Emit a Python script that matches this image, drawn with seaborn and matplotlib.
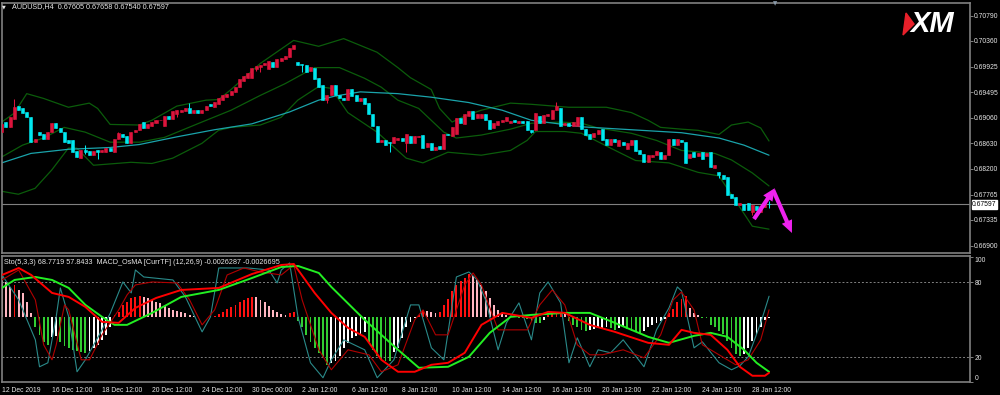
import matplotlib
matplotlib.use("Agg")
import matplotlib.pyplot as plt
from matplotlib.patches import Polygon, FancyArrowPatch
import numpy as np
import pandas as pd
import seaborn as sns

# AUDUSD H4 candles (bar 0 = 12 Dec 2019)
OPENS = [
    0.6882, 0.6899, 0.6891, 0.6905, 0.6926, 0.6923, 0.6916, 0.6907, 0.6865, 0.6883,
    0.6878, 0.6870, 0.6882, 0.6897, 0.6889, 0.6883, 0.6868, 0.6868, 0.6850, 0.6839,
    0.6851, 0.6850, 0.6844, 0.6851, 0.6848, 0.6848, 0.6855, 0.6849, 0.6870, 0.6879,
    0.6876, 0.6863, 0.6882, 0.6885, 0.6899, 0.6889, 0.6892, 0.6898, 0.6902, 0.6892,
    0.6910, 0.6905, 0.6913, 0.6916, 0.6917, 0.6923, 0.6915, 0.6919, 0.6915, 0.6919,
    0.6930, 0.6924, 0.6930, 0.6937, 0.6942, 0.6945, 0.6950, 0.6958, 0.6969, 0.6973,
    0.6973, 0.6989, 0.6992, 0.6995, 0.6989, 0.7000, 0.6992, 0.7003, 0.7005, 0.7009,
    0.7023, 0.7000, 0.6997, 0.6996, 0.6985, 0.6991, 0.6973, 0.6961, 0.6936, 0.6944,
    0.6962, 0.6944, 0.6940, 0.6936, 0.6955, 0.6944, 0.6935, 0.6939, 0.6932, 0.6912,
    0.6892, 0.6865, 0.6868, 0.6866, 0.6863, 0.6868, 0.6872, 0.6863, 0.6876, 0.6863,
    0.6874, 0.6877, 0.6857, 0.6864, 0.6851, 0.6858, 0.6854, 0.6879, 0.6876, 0.6878,
    0.6906, 0.6896, 0.6910, 0.6917, 0.6906, 0.6906, 0.6912, 0.6902, 0.6889, 0.6894,
    0.6899, 0.6900, 0.6898, 0.6903, 0.6897, 0.6901, 0.6901, 0.6886, 0.6886, 0.6909,
    0.6897, 0.6909, 0.6905, 0.6919, 0.6923, 0.6894, 0.6897, 0.6893, 0.6893, 0.6907,
    0.6888, 0.6879, 0.6873, 0.6878, 0.6888, 0.6871, 0.6860, 0.6871, 0.6858, 0.6865,
    0.6854, 0.6860, 0.6869, 0.6852, 0.6845, 0.6832, 0.6840, 0.6843, 0.6848, 0.6837,
    0.6843, 0.6871, 0.6860, 0.6869, 0.6866, 0.6839, 0.6848, 0.6841, 0.6848, 0.6841,
    0.6848, 0.6822, 0.6815, 0.6809, 0.6806, 0.6777, 0.6772, 0.6759, 0.6760, 0.6763,
    0.6747, 0.6757, 0.6747, 0.6756, 0.67605,
]
CLOSES = [
    0.6895, 0.6891, 0.6907, 0.6924, 0.6920, 0.6915, 0.6907, 0.6865, 0.6871, 0.6877,
    0.6870, 0.6882, 0.6897, 0.6889, 0.6882, 0.6866, 0.6864, 0.6849, 0.6840, 0.6851,
    0.6848, 0.6844, 0.6850, 0.6848, 0.6851, 0.6855, 0.6850, 0.6870, 0.6880, 0.6874,
    0.6863, 0.6882, 0.6886, 0.6896, 0.6889, 0.6895, 0.6899, 0.6902, 0.6903, 0.6909,
    0.6905, 0.6917, 0.6919, 0.6919, 0.6922, 0.6915, 0.6919, 0.6915, 0.6919, 0.6926,
    0.6926, 0.6933, 0.6940, 0.6944, 0.6947, 0.6951, 0.6958, 0.6972, 0.6977, 0.6982,
    0.6991, 0.6993, 0.6996, 0.6999, 0.7003, 0.6992, 0.7006, 0.7007, 0.7010, 0.7024,
    0.7030, 0.6996, 0.6995, 0.6983, 0.6992, 0.6972, 0.6958, 0.6937, 0.6945, 0.6962,
    0.6944, 0.6940, 0.6937, 0.6955, 0.6943, 0.6934, 0.6939, 0.6930, 0.6912, 0.6892,
    0.6865, 0.6868, 0.6861, 0.6863, 0.6874, 0.6872, 0.6867, 0.6878, 0.6863, 0.6876,
    0.6876, 0.6855, 0.6864, 0.6851, 0.6857, 0.6853, 0.6878, 0.6877, 0.6891, 0.6906,
    0.6898, 0.6912, 0.6917, 0.6905, 0.6912, 0.6913, 0.6902, 0.6888, 0.6898, 0.6900,
    0.6902, 0.6907, 0.6901, 0.6899, 0.6901, 0.6897, 0.6886, 0.6882, 0.6914, 0.6897,
    0.6911, 0.6912, 0.6920, 0.6926, 0.6892, 0.6898, 0.6892, 0.6899, 0.6907, 0.6888,
    0.6877, 0.6871, 0.6880, 0.6886, 0.6868, 0.6861, 0.6871, 0.6865, 0.6869, 0.6860,
    0.6863, 0.6869, 0.6850, 0.6845, 0.6832, 0.6843, 0.6843, 0.6850, 0.6837, 0.6843,
    0.6871, 0.6860, 0.6871, 0.6865, 0.6830, 0.6845, 0.6840, 0.6847, 0.6837, 0.6846,
    0.6823, 0.6826, 0.6809, 0.6802, 0.6775, 0.6770, 0.6759, 0.6762, 0.6751, 0.6751,
    0.6758, 0.6750, 0.6757, 0.6762, 0.67597,
]
HIGH_WICKS = {3: 0.6938, 20: 0.6860, 28: 0.6882, 45: 0.6931, 133: 0.6933, 184: 0.67658}
LOW_WICKS = {20: 0.6845, 23: 0.6837, 42: 0.6907, 61: 0.6985, 62: 0.6983, 72: 0.6983,
             78: 0.6931, 93: 0.6849, 97: 0.6849, 127: 0.6880, 172: 0.6804, 180: 0.6742,
             184: 0.67540}

# overlays (bar, price)
MA_SLOW = [(0, 0.6830), (7, 0.6846), (16, 0.6853), (26, 0.6856), (33, 0.6861), (42, 0.6874),
           (51, 0.6886), (60, 0.6896), (69, 0.6916), (76, 0.6936), (80, 0.6943), (86, 0.6950),
           (95, 0.6947), (103, 0.6941), (112, 0.6932), (120, 0.6919), (127, 0.6902),
           (139, 0.6891), (151, 0.6886), (163, 0.6881), (172, 0.6872), (178, 0.6860),
           (184, 0.6843)]
BB_UPPER = [(0, 0.6899), (3, 0.6914), (6, 0.6947), (10, 0.6939), (14, 0.6929), (16, 0.6924),
            (21, 0.6931), (23, 0.6922), (26, 0.6895), (33, 0.6894), (36, 0.6902), (42, 0.6926),
            (49, 0.6936), (52, 0.6937), (55, 0.6954), (62, 0.6998), (70, 0.7037), (76, 0.7027),
            (82, 0.7040), (90, 0.7017), (95, 0.6991), (98, 0.6974), (103, 0.6954), (105, 0.6922),
            (108, 0.6899), (111, 0.6909), (115, 0.6919), (122, 0.6931), (127, 0.6929),
            (136, 0.6924), (145, 0.6924), (151, 0.6915), (155, 0.6902), (158, 0.6890),
            (163, 0.6887), (167, 0.6885), (172, 0.6878), (175, 0.6894), (179, 0.6899),
            (182, 0.6889), (184, 0.6867)]
BB_MID = [(0, 0.6840), (5, 0.6860), (10, 0.6872), (15, 0.6890), (20, 0.6882), (26, 0.6865),
          (33, 0.6865), (39, 0.6873), (48, 0.6899), (55, 0.6919), (62, 0.6944), (68, 0.6964),
          (75, 0.6991), (81, 0.6991), (87, 0.6973), (91, 0.6958), (95, 0.6936), (100, 0.6922),
          (106, 0.6882), (109, 0.6872), (115, 0.6877), (122, 0.6887), (127, 0.6897),
          (134, 0.6899), (139, 0.6897), (143, 0.6889), (151, 0.6880), (157, 0.6868),
          (163, 0.6851), (171, 0.6846), (175, 0.6835), (180, 0.6813), (184, 0.6791)]
BB_LOWER = [(0, 0.6782), (4, 0.6777), (8, 0.6787), (12, 0.6818), (16, 0.6855), (18, 0.6855),
            (22, 0.6826), (31, 0.6831), (36, 0.6829), (41, 0.6838), (48, 0.6863), (52, 0.6885),
            (55, 0.6890), (62, 0.6894), (67, 0.6907), (71, 0.6936), (76, 0.6959), (79, 0.6956),
            (83, 0.6915), (90, 0.6882), (97, 0.6838), (101, 0.6830), (107, 0.6848),
            (115, 0.6843), (122, 0.6851), (126, 0.6868), (128, 0.6883), (135, 0.6883),
            (139, 0.6880), (146, 0.6855), (152, 0.6834), (160, 0.6830), (167, 0.6814),
            (172, 0.6808), (177, 0.6755), (180, 0.6723), (184, 0.6718)]

LAST_PRICE = 0.67597
PRICE_TICKS = [0.70790, 0.70360, 0.69925, 0.69495, 0.69060, 0.68630, 0.68200, 0.67765,
               0.67335, 0.66900]
TIME_LABELS = ["12 Dec 2019", "16 Dec 12:00", "18 Dec 12:00", "20 Dec 12:00", "24 Dec 12:00",
               "30 Dec 00:00", "2 Jan 12:00", "6 Jan 12:00", "8 Jan 12:00", "10 Jan 12:00",
               "14 Jan 12:00", "16 Jan 12:00", "20 Jan 12:00", "22 Jan 12:00", "24 Jan 12:00",
               "28 Jan 12:00"]
TIME_STEP = 12  # bars between time labels

# lower window: OsMA histogram (window units around its zero line) + lines (0..100)
OSMA_ZERO = 52
OSMA = [
    30, 28, 24, 26, 22, 19, 12, 3, -8, -14, -20, -22, -16, -15, -20, -23, -25, -26, -27, -28,
    -28.5, -27, -25, -22, -18, -14, -8, 2, 4, 10, 12, 15, 16, 17, 16, 15, 14, 12.5, 11, 9,
    7.5, 6, 5, 4, 3, 2, 1, 0.5, 0.3, 0.5, 0.3, 1, 2.5, 4.5, 6.5, 8, 10, 12, 14, 15.5,
    16.5, 16, 14, 12, 9, 6, 4, 2.5, 2, 3.5, 4, -3, -8, -14, -20, -25, -29, -32, -38, -36.5,
    -35, -31, -25, -21, -16.6, -15, -13.7, -12, -20, -26, -31, -33.7, -35, -35.5, -28, -25,
    -16.6, -8, -3.8, -1, 2, 6, 5, 4, 3, 4, 10, 14.8, 21, 26, 29, 31, 34.5, 33, 30, 26, 21,
    15, 10, 6, 3.5, 2, 1, 0.5, -0.5, -1, -1.5, -3, -4.5, -5, -2.5, 1.5, 2.5, 3.2, 3.5, 2.5,
    -3, -6, -8, -10, -11, -10, -9.5, -9, -8.5, -8, -9, -10, -9, -8, -9.5, -11, -12, -12.5,
    -11, -8, -6.6, -5, -3.5, -1.5, 3, 6.2, 11.9, 14.8, 17, 7, 3.4, 1.5, -0.5, -1, -6.6, -8,
    -10.9, -13.7, -19.4, -25, -29.4, -30.8, -29.4, -25, -19.4, -13.7, -8, -2, -1,
]
STO_MAIN = [(0, 85.8), (4, 65.8), (8, 33.8), (9, 12.2), (11, 15.4), (13, 52.2), (14, 75.4),
            (16, 52.2), (18, 8.2), (20, 17.8), (24, 41.8), (26, 55.4), (29, 80.2), (31, 71.4),
            (32, 89.8), (34, 84.2), (41, 81.8), (44, 68.2), (48, 40.2), (50, 52.2), (52, 91.4),
            (59, 91.4), (64, 89.8), (66, 79.4), (67, 89.8), (69, 95.4), (71, 52.2), (74, 15.4),
            (77, 3.4), (79, 17.8), (82, 33.8), (87, 25.8), (90, 3.4), (94, 17.8), (98, 61.8),
            (100, 61.8), (103, 27.4), (106, 17.8), (109, 84.2), (112, 88.2), (114, 81.8),
            (116, 65.8), (119, 25.8), (121, 47.4), (124, 63.4), (127, 33.8), (129, 71.4),
            (131, 80.2), (134, 63.4), (136, 15.4), (138, 35.4), (141, 12.2), (143, 25.8),
            (146, 23.4), (149, 33.8), (154, 12.2), (157, 41.8), (160, 59.4), (162, 76.2),
            (163, 73.0), (166, 27.4), (168, 32.2), (172, 15.4), (175, 9.8), (177, 13.0),
            (179, 20.2), (182, 47.4), (184, 68.77)]
STO_SIGNAL = [(0, 81.8), (4, 89.8), (8, 65.8), (10, 29.8), (12, 17.8), (13, 29.8), (15, 61.8),
              (16, 57.8), (19, 17.8), (21, 17.8), (24, 37.8), (28, 57.8), (30, 69.8), (32, 77.8),
              (36, 80.2), (42, 79.4), (45, 65.8), (48, 45.8), (51, 57.8), (54, 85.8), (58, 91.4),
              (62, 88.2), (67, 85.8), (70, 93.8), (72, 65.8), (76, 25.8), (79, 9.8), (81, 17.8),
              (83, 25.8), (88, 21.8), (91, 8.2), (95, 13.8), (99, 49.8), (101, 57.8),
              (104, 37.8), (107, 37.8), (111, 77.8), (113, 87.4), (115, 77.8), (119, 41.8),
              (122, 41.8), (126, 41.8), (129, 61.8), (132, 73.8), (135, 61.8), (138, 29.8),
              (141, 21.8), (144, 21.8), (149, 25.8), (154, 19.4), (158, 37.8), (161, 65.8),
              (163, 72.2), (166, 57.8), (168, 29.8), (172, 21.8), (176, 13.8), (179, 17.8),
              (182, 33.8), (184, 57.84)]
MACD_LINE = [(0, 85.8), (4, 91.4), (7, 85.8), (12, 71.4), (16, 68.2), (20, 60.2), (24, 48.2),
             (28, 47.4), (32, 59.4), (37, 67.4), (43, 73.8), (52, 75.4), (60, 86.6), (67, 93.8),
             (70, 94.6), (75, 71.4), (79, 55.4), (83, 43.4), (87, 36.2), (91, 17.8), (95, 8.2),
             (99, 8.2), (103, 13.8), (107, 15.4), (111, 23.4), (115, 45.8), (120, 55.4),
             (127, 51.4), (131, 56.2), (135, 55.4), (141, 45.8), (147, 40.2), (155, 31.4),
             (160, 29.8), (163, 41.8), (166, 39.4), (170, 37.8), (174, 25.8), (177, 12.2),
             (180, 5.0), (183, 5.0), (184, 7.4)]
MACD_SIGNAL = [(0, 75.4), (3, 81.8), (8, 84.2), (12, 81.8), (16, 75.4), (20, 61.8), (24, 52.2),
               (27, 45.8), (30, 45.8), (36, 55.4), (43, 68.2), (52, 73.8), (60, 83.4),
               (67, 92.2), (71, 93.0), (76, 87.4), (79, 76.2), (87, 49.8), (95, 25.8),
               (100, 11.4), (107, 12.2), (112, 20.2), (117, 39.4), (122, 52.2), (127, 53.8),
               (135, 55.4), (141, 55.4), (147, 47.4), (155, 36.2), (160, 31.4), (166, 37.0),
               (170, 39.4), (174, 36.2), (178, 25.8), (181, 15.4), (184, 8.2)]
LEVELS = [20, 80]
IND_TICKS = [0, 20, 80, 100]

TITLE = "AUDUSD,H4  0.67605 0.67658 0.67540 0.67597"
IND_TITLE = "Sto(5,3,3) 68.7719 57.8433  MACD_OsMA [CurrTF] (12,26,9) -0.0026287 -0.0026695"

# hand-drawn arrows on the chart: (bar, price) start -> tip
ARROW_UP = ((180.4, 0.67351), (185.4, 0.67873))
ARROW_DOWN = ((185.0, 0.67840), (189.5, 0.67115))

BULL, BEAR = "#dc143c", "#00e8f0"
BAND, MA_COL = "#0b5c0b", "#1aa3aa"
GRID = "#808080"
TXT = "#e6e6e6"
LAB = 4.9  # label font size

sns.set_style("dark", {"axes.facecolor": "black", "figure.facecolor": "black",
                       "axes.edgecolor": GRID, "axes.grid": False})
plt.rcParams["font.family"] = ["Liberation Sans", "DejaVu Sans"]

W, H = 1000, 395
fig = plt.figure(figsize=(W / 100, H / 100), dpi=100, facecolor="black")
ax = fig.add_axes([2 / W, 1 - 253 / H, 968 / W, 250 / H])
ax2 = fig.add_axes([2 / W, 1 - 382 / H, 968 / W, 126 / H])


def draw_line(axis, pts, color, lw, z):
    df = pd.DataFrame(pts, columns=["bar", "value"])
    sns.lineplot(data=df, x="bar", y="value", ax=axis, color=color, linewidth=lw,
                 zorder=z, legend=False)


# ---- price window
bars = np.arange(len(OPENS))
o, c = np.array(OPENS), np.array(CLOSES)
hi, lo = np.maximum(o, c), np.minimum(o, c)
for k, v in HIGH_WICKS.items():
    hi[k] = v
for k, v in LOW_WICKS.items():
    lo[k] = v
cols = np.where(c >= o, BULL, BEAR)

for pts in (BB_UPPER, BB_MID, BB_LOWER):
    draw_line(ax, pts, BAND, 0.9, 2)
draw_line(ax, MA_SLOW, MA_COL, 0.9, 2)

ax.vlines(bars, lo, hi, colors=cols, linewidth=0.75, zorder=3)
ax.bar(bars, np.abs(c - o), bottom=np.minimum(o, c), width=0.72, color=cols,
       edgecolor=cols, linewidth=0.4, zorder=4)

ax.axhline(LAST_PRICE, color=GRID, lw=0.8, zorder=1)

for (x0, y0), (x1, y1) in (ARROW_UP, ARROW_DOWN):
    ax.add_patch(FancyArrowPatch((x0, y0), (x1, y1), mutation_scale=1,
                                 arrowstyle="simple,head_length=9,head_width=8,tail_width=3",
                                 color="#ee22ee", lw=0, zorder=6, shrinkA=0, shrinkB=0))

ax.set_xlim(0.07, 232.2)
ax.set_ylim(0.66777, 0.71002)
ax.set_xlabel("")
ax.set_ylabel("")
ax.set_xticks([])
ax.yaxis.tick_right()
ax.set_yticks(PRICE_TICKS)
ax.set_yticklabels([f"{p:.5f}" for p in PRICE_TICKS])
ax.tick_params(axis="y", direction="out", length=2, width=0.7, color=GRID,
               labelcolor=TXT, labelsize=LAB, pad=0.8)
for s in ax.spines.values():
    s.set_color(GRID)
    s.set_linewidth(1.2)
ax.annotate(f"{LAST_PRICE:.5f}", xy=(1, LAST_PRICE), xycoords=ax.get_yaxis_transform(),
            xytext=(1.6, 0), textcoords="offset points", ha="left", va="center",
            fontsize=LAB, color="black", annotation_clip=False,
            bbox=dict(boxstyle="square,pad=0.1", fc="white", ec="white"))

# ---- indicator window
osma = np.array(OSMA, dtype=float)
prev = np.r_[osma[0], osma[:-1]]
hcols = np.where(osma >= 0, np.where(osma > prev, "#ff1010", "#ffb6c1"),
                 np.where(osma < prev, "#32cd32", "#ffffff"))
ax2.bar(bars, osma, bottom=OSMA_ZERO, width=0.45, color=hcols, linewidth=0, zorder=2)
for lv in LEVELS:
    ax2.axhline(lv, color=GRID, lw=0.7, ls=(0, (2, 2)), zorder=1)

draw_line(ax2, STO_MAIN, "#2a8a8a", 0.8, 3)
draw_line(ax2, STO_SIGNAL, "#b00000", 0.8, 3)
draw_line(ax2, MACD_SIGNAL, "#22ee22", 1.4, 4)
draw_line(ax2, MACD_LINE, "#ff0000", 1.4, 4)

ax2.set_xlim(0.07, 232.2)
ax2.set_ylim(0.2, 101)
ax2.set_xlabel("")
ax2.set_ylabel("")
ax2.yaxis.tick_right()
ax2.set_yticks(IND_TICKS)
ax2.set_yticklabels([str(t) for t in IND_TICKS])
ylabs = ax2.get_yticklabels()
ylabs[0].set_va("bottom")
ylabs[-1].set_va("top")
ax2.set_xticks(np.arange(len(TIME_LABELS)) * TIME_STEP)
ax2.set_xticklabels(TIME_LABELS, ha="left")
ax2.tick_params(axis="both", direction="out", length=2.5, width=0.7, color=GRID,
                labelcolor=TXT, labelsize=LAB, pad=1)
for s in ax2.spines.values():
    s.set_color(GRID)
    s.set_linewidth(1.2)

# ---- texts and logo
fig.text(4 / W, 1 - 7 / H, "\u25BC", color=TXT, fontsize=3.5, va="center", ha="center",
         family=["DejaVu Sans"])
fig.text(12 / W, 1 - 7 / H, TITLE, color=TXT, fontsize=LAB + 0.3, va="center", ha="left")
fig.text(4 / W, 1 - 262 / H, IND_TITLE, color=TXT, fontsize=LAB + 0.3, va="center", ha="left")
fig.text(775 / W, 1 - 4 / H, "\u25BC", color="#8a9aaa", fontsize=4, va="center", ha="center",
         family=["DejaVu Sans"])
fig.add_artist(Polygon([(906 / W, 1 - 13 / H), (914 / W, 1 - 24 / H), (903 / W, 1 - 35 / H)],
                       closed=True, color="#e8202a", transform=fig.transFigure))
fig.text(910 / W, 1 - 24.5 / H, "XM", color="white", fontsize=21, fontweight="bold",
         style="italic", va="center", ha="left")

fig.savefig("out.png", dpi=100, facecolor="black")
